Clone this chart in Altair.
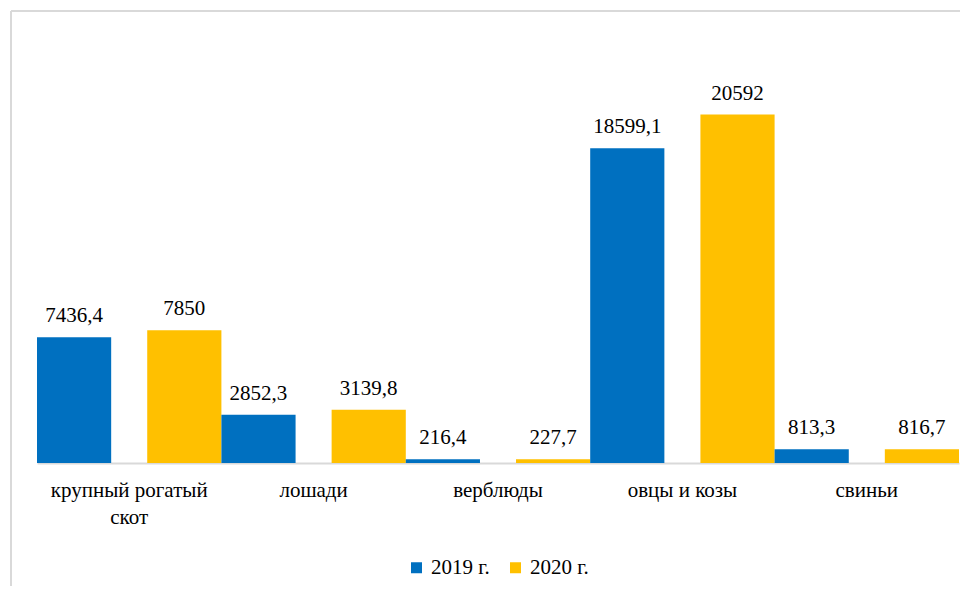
import altair as alt
import pandas as pd

categories = ["крупный рогатый скот", "лошади", "верблюды", "овцы и козы", "свиньи"]
series = ["2019 г.", "2020 г."]
v2019 = [7436.4, 2852.3, 216.4, 18599.1, 813.3]
v2020 = [7850, 3139.8, 227.7, 20592, 816.7]
colors = ["#0070C0", "#FFC000"]


def fmt(v):
    if float(v).is_integer():
        return str(int(v))
    return str(v).replace(".", ",")


rows = []
for c, a, b in zip(categories, v2019, v2020):
    rows.append({"cat": c, "year": series[0], "val": a, "lab": fmt(a)})
    rows.append({"cat": c, "year": series[1], "val": b, "lab": fmt(b)})
df = pd.DataFrame(rows)

W, H = 922, 423
FONT = "Liberation Serif"

x_enc = alt.X(
    "cat:N",
    sort=categories,
    scale=alt.Scale(paddingInner=0, paddingOuter=0),
    axis=alt.Axis(
        title=None,
        ticks=False,
        domainColor="#D9D9D9",
        domainWidth=2,
        labelAngle=0,
        labelFont=FONT,
        labelFontSize=21,
        labelColor="#000000",
        labelPadding=16,
        labelLineHeight=27,
        labelBaseline="top",
        labelExpr="datum.label == 'крупный рогатый скот' ? ['крупный рогатый', 'скот'] : datum.label",
    ),
)
xo_enc = alt.XOffset("year:N", sort=series, scale=alt.Scale(paddingInner=0.327, paddingOuter=0))
y_enc = alt.Y("val:Q", scale=alt.Scale(domain=[0, 25000], nice=False), axis=None)

base = alt.Chart(df)

bars = base.mark_bar().encode(
    x=x_enc,
    xOffset=xo_enc,
    y=y_enc,
    color=alt.Color(
        "year:N",
        sort=series,
        scale=alt.Scale(domain=series, range=colors),
        legend=alt.Legend(
            title=None,
            orient="none",
            direction="horizontal",
            legendX=369,
            legendY=517,
            symbolType="square",
            symbolSize=121,
            symbolStrokeWidth=0,
            labelFont=FONT,
            labelFontSize=21,
            labelColor="#000000",
            labelOffset=4,
            columnPadding=15,
            padding=0,
        ),
    ),
)

texts = base.mark_text(font=FONT, fontSize=21, color="#000000", baseline="alphabetic", dy=-15).encode(
    x=x_enc,
    xOffset=xo_enc,
    y=y_enc,
    text="lab:N",
)

frame_df = pd.DataFrame({"a": [0]})
left_rule = alt.Chart(frame_df).mark_rule(color="#D9D9D9", strokeWidth=2).encode(
    x=alt.value(-26), y=alt.value(-29), y2=alt.value(H + 200)
)
top_rule = alt.Chart(frame_df).mark_rule(color="#D9D9D9", strokeWidth=2).encode(
    x=alt.value(-26), x2=alt.value(W + 100), y=alt.value(-29)
)

chart = (
    alt.layer(left_rule, top_rule, bars, texts)
    .properties(
        width=W,
        height=H,
        autosize=alt.AutoSizeParams(type="none"),
        padding={"left": 29, "top": 32, "right": 1, "bottom": 123},
    )
    .configure_view(stroke=None)
)

chart.save("out.html", embed_options={"renderer": "svg", "actions": False})
